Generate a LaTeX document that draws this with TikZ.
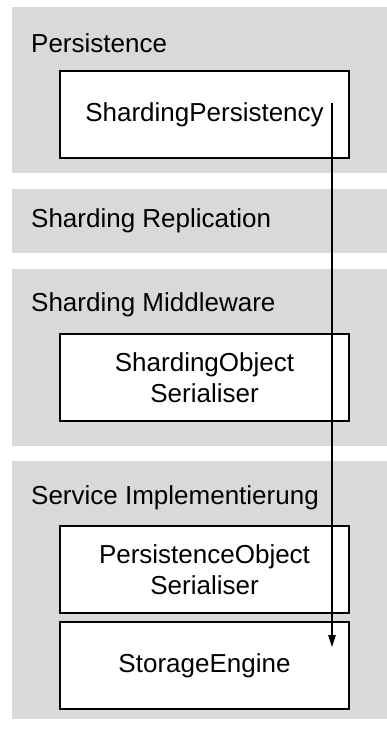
\documentclass[tikz,border=0pt]{standalone}
\usepackage{fontspec}
\setmainfont{Liberation Sans}
\usetikzlibrary{arrows.meta}
\definecolor{bandgray}{RGB}{217,217,217}

\begin{document}
\begin{tikzpicture}[x=1pt,y=-1pt,
    band/.style={fill=bandgray},
    lbl/.style={anchor=west,inner sep=0pt,font=\fontsize{26}{31}\selectfont},
    comp/.style={draw,fill=white,line width=1.5pt,minimum width=289pt,minimum height=87pt,
                 inner sep=0pt,align=center,font=\fontsize{26}{31}\selectfont}]
    \useasboundingbox (0,0) rectangle (387,729);
    % layers
    \fill[band] (12,7) rectangle (387,173);
    \fill[band] (12,189) rectangle (387,253);
    \fill[band] (12,269) rectangle (387,446);
    \fill[band] (12,461) rectangle (387,719);
    \node[lbl] (persistence) at (31,43) {Persistence};
    \node[lbl] (replication) at (31,221) {Sharding Replication};
    \node[lbl] (middleware) at (31,305) {Sharding Middleware};
    \node[lbl] (service) at (31,498) {Service Implementierung};
    % components
    \node[comp] (shardpers) at (204.5,114.5) {ShardingPersistency};
    \node[comp] (shardser) at (204.5,377.5) {ShardingObject\\Serialiser};
    \node[comp] (persser) at (204.5,569.5) {PersistenceObject\\Serialiser};
    \node[comp] (storage) at (204.5,665.5) {StorageEngine};
    % call path
    \coordinate (callfrom) at (332,103);
    \coordinate (callto) at (332,647);
    \draw[-{Triangle[length=12pt,width=7.5pt]},line width=1.1pt] (callfrom) -- (callto);
\end{tikzpicture}
\end{document}
